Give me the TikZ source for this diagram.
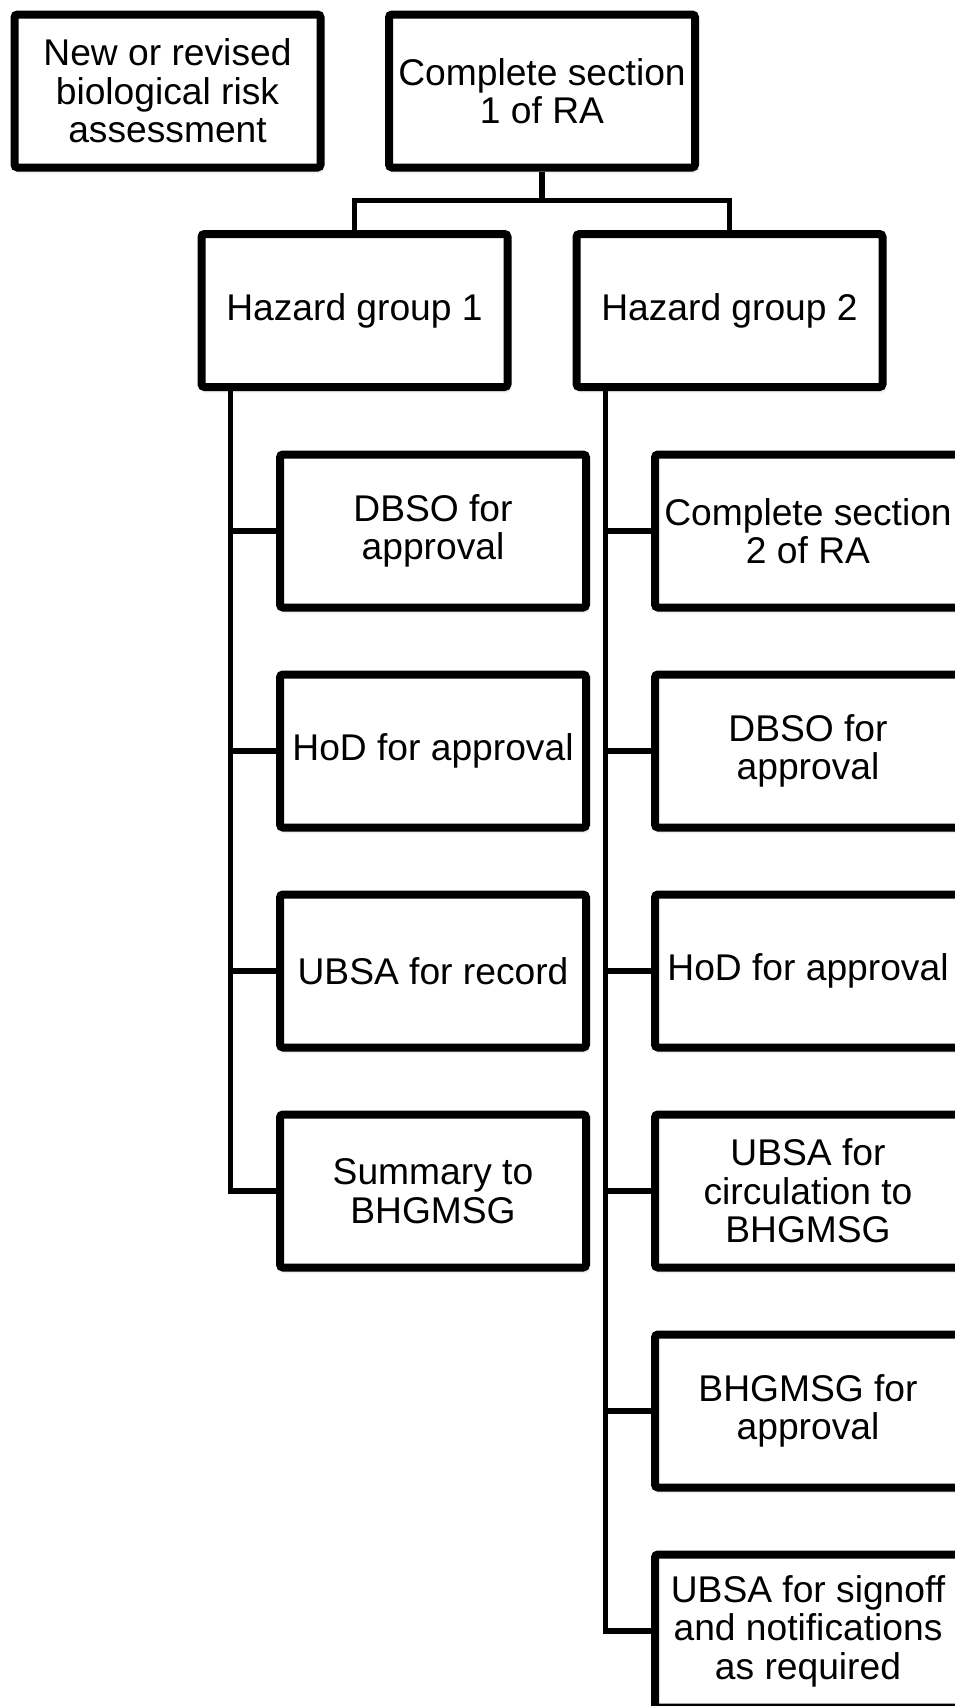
\documentclass[tikz,border=0pt]{standalone}
\usepackage{fontspec}
\setmainfont{Liberation Sans}
\usetikzlibrary{shadows.blur}
\begin{document}
\begin{tikzpicture}[x=1pt,y=-1pt,
  stepbox/.style={draw=black, fill=white, line width=8pt, rounded corners=3pt,
    minimum width=306pt, minimum height=153pt, inner sep=0pt, align=center,
    font=\fontsize{37.2}{38.6}\selectfont,
    blur shadow={shadow xshift=1.5pt, shadow yshift=-3pt, shadow blur steps=6,
      shadow blur radius=3.5pt, shadow opacity=30}},
  link/.style={draw=black, line width=5.5pt, line join=miter}]
\useasboundingbox (0,0) rectangle (955,1706);

% top row
\node[stepbox] (start) at (167.5,91)  {New or revised\\biological risk\\assessment};
\node[stepbox] (sec1)  at (542,91)    {Complete section\\1 of RA};

% hazard groups
\node[stepbox] (hg1) at (354.5,310.5) {Hazard group 1};
\node[stepbox] (hg2) at (729.5,310.5) {Hazard group 2};

% hazard group 1 steps
\node[stepbox] (a1) at (433,531)  {DBSO for\\approval};
\node[stepbox] (a2) at (433,751)  {HoD for approval};
\node[stepbox] (a3) at (433,971)  {UBSA for record};
\node[stepbox] (a4) at (433,1191) {Summary to\\BHGMSG};

% hazard group 2 steps
\node[stepbox] (b1) at (808,531)  {Complete section\\2 of RA};
\node[stepbox] (b2) at (808,751)  {DBSO for\\approval};
\node[stepbox] (b3) at (808,971)  {HoD for approval};
\node[stepbox] (b4) at (808,1191) {UBSA for\\circulation to\\BHGMSG};
\node[stepbox] (b5) at (808,1411) {BHGMSG for\\approval};
\node[stepbox] (b6) at (808,1631) {UBSA for signoff\\and notifications\\as required};

% split below section 1
\coordinate (split) at (542,200.5);
\draw[link] (sec1.south) -- (split);
\draw[link] (hg1.north) |- (split) -| (hg2.north);

% trunks
\coordinate (t1) at ([xshift=33pt]hg1.south west);
\coordinate (t2) at ([xshift=33pt]hg2.south west);
\draw[link] (t1) |- (a4.west);
\foreach \n in {a1,a2,a3} \draw[link] (\n.west) -- (\n.west -| t1);
\draw[link] (t2) |- (b6.west);
\foreach \n in {b1,b2,b3,b4,b5} \draw[link] (\n.west) -- (\n.west -| t2);
\end{tikzpicture}
\end{document}
